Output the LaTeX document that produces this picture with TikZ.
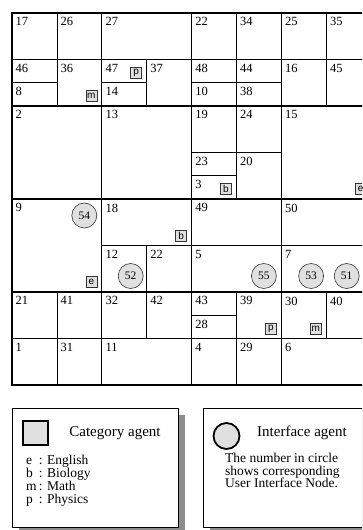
\documentclass[tikz,border=0pt]{standalone}
\usepackage{fontspec}
\setmainfont{Liberation Serif}
\newfontfamily\catfont{Liberation Sans}
\usetikzlibrary{positioning}
\definecolor{agentgray}{gray}{0.88}
\definecolor{shadowgray}{gray}{0.55}

\tikzset{
  cell/.style={draw, line width=0.8pt, outer sep=0pt, inner sep=0pt, anchor=north west},
  num/.style={anchor=north west, inner xsep=3.5pt, inner ysep=4.5pt, font=\fontsize{12.5}{12.5}\selectfont},
  catbox/.style={draw=black!80, fill=agentgray, line width=0.6pt, minimum size=11pt, inner sep=0pt, font=\catfont\fontsize{10}{10}\selectfont},
  agent/.style={circle, draw=black!80, fill=agentgray, line width=0.6pt, minimum size=25pt, inner sep=0pt, font=\fontsize{11.5}{11.5}\selectfont},
  legend/.style={draw, line width=0.6pt, fill=white, minimum width=166pt, minimum height=119pt, anchor=north west, outer sep=0pt},
}

\begin{document}
\begin{tikzpicture}[x=1pt, y=-1pt]
\clip (0,0) rectangle (362,530);

% the map: name/label/column/row/columns/rows
\foreach \n/\lab/\col/\row/\cols/\rows in {
  17/17/0/0/1/1, 26/26/1/0/1/1, 27/27/2/0/2/1, 22/22/4/0/1/1, 34/34/5/0/1/1, 25/25/6/0/1/1, 35/35/7/0/1/1,
  46/46/0/1/1/0.5, 8/8/0/1.5/1/0.5, 36/36/1/1/1/1, 47/47/2/1/1/0.5, 14/14/2/1.5/1/0.5, 37/37/3/1/1/1,
  48/48/4/1/1/0.5, 10/10/4/1.5/1/0.5, 44/44/5/1/1/0.5, 38/38/5/1.5/1/0.5, 16/16/6/1/1/1, 45/45/7/1/1/1,
  2/2/0/2/2/2, 13/13/2/2/2/2, 19/19/4/2/1/1, 24/24/5/2/1/1, 23/23/4/3/1/0.5, 3/3/4/3.5/1/0.5,
  20/20/5/3/1/1, 15/15/6/2/2/2,
  9/9/0/4/2/2, 18/18/2/4/2/1, 12/12/2/5/1/1, 22b/22/3/5/1/1, 49/49/4/4/2/1, 5/5/4/5/2/1,
  50/50/6/4/2/1, 7/7/6/5/2/1,
  21/21/0/6/1/1, 41/41/1/6/1/1, 32/32/2/6/1/1, 42/42/3/6/1/1, 43/43/4/6/1/0.5, 28/28/4/6.5/1/0.5,
  39/39/5/6/1/1, 30/30/6/6/1/1, 40/40/7/6/1/1,
  1/1/0/7/1/1, 31/31/1/7/1/1, 11/11/2/7/2/1, 4/4/4/7/1/1, 29/29/5/7/1/1, 6/6/6/7/2/1}
  \node[cell, minimum width=\cols*44.9pt, minimum height=\rows*46.5pt,
        label={[num]north west:\lab}] (c\n) at ({12+\col*44.9},{13+\row*46.5}) {};

% heavier block lines
\foreach \k in {2,4,6} {
  \draw[line width=1.1pt] ({12+\k*44.9},13) -- ({12+\k*44.9},385);
  \draw[line width=1.1pt] (12,{13+\k*46.5}) -- (371.2,{13+\k*46.5});
}
\draw[line width=1.4pt] (12,13) rectangle (371.2,385);

% category agents
\foreach \n/\l in {36/m, 47/p, 3/b, 15/e, 18/b, 9/e, 39/p, 30/m}
  \node[catbox] (k\n) at ([xshift=-10.5pt, yshift=10pt]c\n.south east) {\l};

% interface agents
\node[agent] (a54) at ([xshift=-17.5pt, yshift=-16.5pt]c9.north east) {54};
\node[agent] (a52) at ([xshift=-16pt, yshift=16pt]c12.south east) {52};
\node[agent] (a55) at ([xshift=-17.5pt, yshift=16pt]c5.south east) {55};
\node[agent] (a51) at ([xshift=-24.5pt, yshift=16pt]c7.south east) {51};
\node[agent, left=10pt of a51] (a53) {53};

% legend
\fill[shadowgray] (19,415) rectangle (185,534);
\node[legend] (catlegend) at (12,408) {};
\fill[shadowgray] (210,415) rectangle (376,534);
\node[legend] (uilegend) at (203,408) {};

\node[catbox, minimum width=25pt, minimum height=24pt, line width=1.8pt, draw=black] (catkey) at (35.5,433) {};
\node[font=\fontsize{15}{15}\selectfont] (cattitle) at (115,433) {Category agent};
\node[anchor=north west, inner sep=0pt, font=\fontsize{13.5}{12.5}\selectfont] (catlist) at (26,455)
  {\begin{tabular}{@{}l@{\,: }l@{}} e & English\\ b & Biology\\ m & Math\\ p & Physics\end{tabular}};

\node[agent, minimum size=26pt, line width=1.8pt, draw=black] (uikey) at (226.5,436) {};
\node[font=\fontsize{15}{15}\selectfont] (uititle) at (302,433) {Interface agent};
\node[anchor=north west, inner sep=0pt, align=left, font=\fontsize{13.5}{12.5}\selectfont] (uinote) at (225,453)
  {The number in circle\\shows corresponding\\User Interface Node.};
\end{tikzpicture}
\end{document}
